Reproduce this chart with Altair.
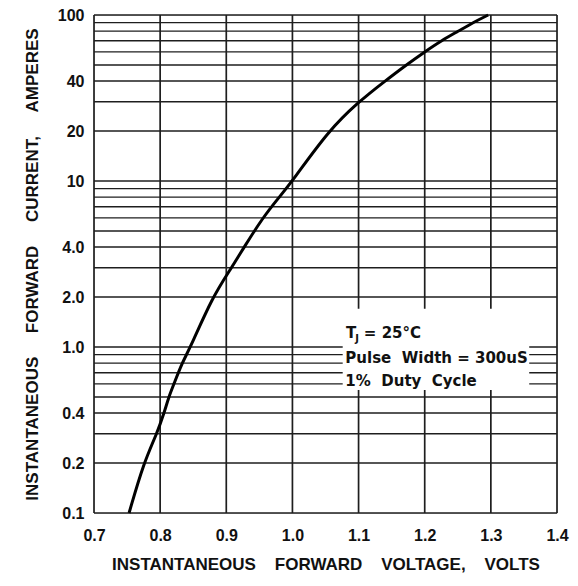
import altair as alt
import pandas as pd

# Curve (instantaneous forward voltage V, current A)
volts = [0.753, 0.775, 0.795, 0.806, 0.813, 0.821, 0.833, 0.846, 0.879, 0.908,
         0.927, 0.955, 0.980, 1.000, 1.054, 1.100, 1.140, 1.172, 1.200, 1.225,
         1.251, 1.273, 1.296]
amps = [0.1, 0.2, 0.3, 0.4, 0.5, 0.6, 0.8, 1.0, 2, 3,
        4, 6, 8, 10, 20, 30, 40, 50, 60, 70,
        80, 90, 100]

# Grid and ticks
x_grid = [0.7, 0.8, 0.9, 1.0, 1.1, 1.2, 1.3, 1.4]
y_grid = [0.1, 0.2, 0.3, 0.4, 0.5, 0.6, 0.7, 0.8, 0.9,
          1, 2, 3, 4, 5, 6, 7, 8, 9,
          10, 20, 30, 40, 50, 60, 70, 80, 90, 100]
y_ticks = [0.1, 0.2, 0.4, 1, 2, 4, 10, 20, 40, 100]

NB = "\u00a0"
x_title = (NB * 4).join(["INSTANTANEOUS", "FORWARD", "VOLTAGE,", "VOLTS"])
y_title = (NB * 5).join(["INSTANTANEOUS", "FORWARD", "CURRENT,", "AMPERES"])

AX_FONT = "Liberation Sans"
FONT = "DejaVu Sans"

curve_df = pd.DataFrame({"v": volts, "i": amps})
xg_df = pd.DataFrame({"v": x_grid})
yg_df = pd.DataFrame({"i": y_grid})

xscale = alt.Scale(domain=[0.7, 1.4], nice=False, zero=False)
yscale = alt.Scale(type="log", domain=[0.1, 100], nice=False)

x_axis = alt.Axis(
    values=x_grid, format=".1f", grid=False, ticks=False, domain=False,
    labelFont=AX_FONT, labelFontSize=16, labelFontWeight="bold",
    labelColor="#111", labelPadding=14, labelFlush=False,
    title=x_title, titleFont=AX_FONT, titleFontSize=17,
    titleFontWeight="bold", titleColor="#111", titlePadding=13,
)
y_axis = alt.Axis(
    values=y_ticks,
    labelExpr="datum.value >= 10 ? format(datum.value, 'd') : format(datum.value, '.1f')",
    grid=False, ticks=False, domain=False,
    labelFont=AX_FONT, labelFontSize=16, labelFontWeight="bold",
    labelColor="#111", labelPadding=10, labelFlush=False,
    title=y_title, titleFont=AX_FONT, titleFontSize=17,
    titleFontWeight="bold", titleColor="#111", titlePadding=16,
)

vgrid = alt.Chart(xg_df).mark_rule(color="#1e1e1e", strokeWidth=1.7).encode(
    x=alt.X("v:Q", scale=xscale, axis=x_axis)
)
hgrid = alt.Chart(yg_df).mark_rule(color="#1e1e1e", strokeWidth=1.4).encode(
    y=alt.Y("i:Q", scale=yscale, axis=y_axis)
)

box = alt.Chart(pd.DataFrame({"a": [0]})).mark_rect(color="white").encode(
    x=alt.datum(1.076, scale=xscale, axis=x_axis),
    x2=alt.datum(1.358),
    y=alt.datum(1.7, scale=yscale, axis=y_axis),
    y2=alt.datum(0.55),
)

curve = alt.Chart(curve_df).mark_line(
    color="black", strokeWidth=3, interpolate="basis"
).encode(
    x=alt.X("v:Q", scale=xscale, axis=x_axis),
    y=alt.Y("i:Q", scale=yscale, axis=y_axis),
)

def label(txt, v, i, size=15, dy=0):
    return alt.Chart(pd.DataFrame({"a": [0]})).mark_text(
        text=txt, font=FONT, fontSize=size, fontWeight="bold", color="#111",
        align="left", baseline="alphabetic", dy=dy,
    ).encode(
        x=alt.datum(v, scale=xscale, axis=x_axis),
        y=alt.datum(i, scale=yscale, axis=y_axis),
    )

texts = [
    label("T", 1.081, 1.13),
    label("J", 1.095, 1.13, size=10, dy=4),
    label("=" + NB + "25°C", 1.108, 1.13),
    label("Pulse" + NB * 2 + "Width" + NB + "=" + NB + "300uS", 1.080, 0.80),
    label("1%" + NB * 2 + "Duty" + NB * 2 + "Cycle", 1.080, 0.585),
]

chart = alt.layer(vgrid, hgrid, box, curve, *texts).properties(
    width=463,
    height=498,
    autosize=alt.AutoSizeParams(type="none"),
    padding={"left": 86, "top": 7, "right": 13, "bottom": 62},
).configure_view(stroke="#333", strokeWidth=1.6).configure(background="white")

chart.save("out.html", embed_options={"renderer": "svg", "actions": False})
